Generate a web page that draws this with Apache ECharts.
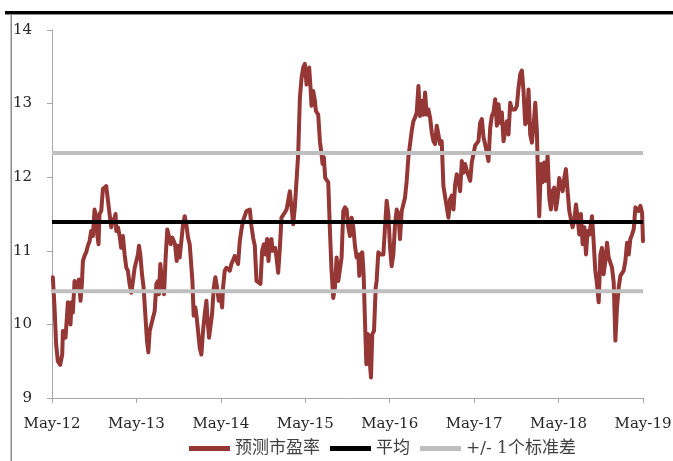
<!DOCTYPE html>
<html>
<head>
<meta charset="utf-8">
<script src="https://cdn.jsdelivr.net/npm/echarts@6/dist/echarts.min.js"></script>
<style>
  html, body { margin: 0; padding: 0; background: #fff; }
  #chart { width: 673px; height: 461px; }
</style>
</head>
<body>
<div id="chart"></div>
<script>
// Forward P/E, weekly readings, x = years since May 2012
const years = [
  0.010,0.030,0.049,0.069,0.097,0.121,0.129,0.148,0.160,0.176,
  0.188,0.208,0.219,0.231,0.247,0.267,0.287,0.306,0.318,0.338,
  0.354,0.366,0.385,0.405,0.425,0.445,0.464,0.484,0.504,0.524,
  0.536,0.551,0.563,0.583,0.603,0.623,0.642,0.662,0.682,0.702,
  0.722,0.741,0.753,0.761,0.781,0.801,0.820,0.840,0.860,0.880,
  0.899,0.919,0.939,0.959,0.979,0.998,1.018,1.030,1.046,1.066,
  1.085,1.105,1.125,1.141,1.157,1.176,1.196,1.216,1.236,1.255,
  1.267,1.283,1.307,1.327,1.346,1.366,1.386,1.406,1.425,1.441,
  1.457,1.477,1.493,1.512,1.532,1.552,1.572,1.591,1.611,1.631,
  1.651,1.663,1.678,1.698,1.714,1.730,1.750,1.769,1.789,1.809,
  1.829,1.841,1.860,1.880,1.896,1.916,1.935,1.955,1.975,1.995,
  2.015,2.026,2.046,2.066,2.086,2.106,2.125,2.145,2.165,2.185,
  2.204,2.224,2.244,2.264,2.283,2.303,2.323,2.343,2.362,2.382,
  2.402,2.422,2.442,2.469,2.489,2.509,2.528,2.548,2.564,2.580,
  2.600,2.611,2.627,2.643,2.659,2.679,2.699,2.718,2.738,2.758,
  2.778,2.797,2.817,2.837,2.857,2.876,2.896,2.916,2.936,2.956,
  2.975,2.995,3.015,3.035,3.046,3.062,3.074,3.094,3.114,3.126,
  3.153,3.173,3.193,3.205,3.220,3.236,3.252,3.272,3.292,3.311,
  3.331,3.351,3.371,3.391,3.410,3.430,3.450,
  3.470,3.490,3.509,3.529,3.549,3.569,3.588,3.608,3.628,3.640,
  3.656,3.675,3.691,3.707,3.723,3.739,3.754,3.766,3.778,3.794,
  3.814,3.834,3.845,3.865,3.885,3.905,3.925,3.944,3.964,3.984,
  4.004,4.023,4.043,4.063,4.083,4.102,4.122,4.142,4.162,4.181,
  4.201,4.221,4.241,4.261,4.280,4.300,4.320,4.340,4.359,4.379,
  4.399,4.419,4.438,4.458,4.478,4.498,4.518,4.537,4.557,4.577,
  4.597,4.616,4.636,4.656,4.676,4.696,4.715,4.735,4.755,4.775,
  4.794,4.814,4.834,4.854,4.873,4.893,4.913,4.933,4.953,4.972,
  4.992,5.012,5.032,5.051,5.071,5.091,5.111,5.130,5.150,5.170,
  5.190,5.209,5.229,5.249,5.269,5.289,5.308,5.328,5.348,5.368,
  5.387,5.407,5.427,5.447,5.466,5.486,5.506,5.526,5.546,5.565,
  5.585,5.605,5.625,5.644,5.664,5.684,5.704,5.724,5.743,5.755,
  5.771,5.791,5.811,5.830,5.850,5.870,5.890,5.909,5.929,5.949,
  5.969,5.989,6.008,6.028,6.048,6.068,6.087,6.107,6.127,6.147,
  6.166,6.186,6.206,6.226,6.245,6.265,6.285,6.305,6.325,6.344,
  6.364,6.384,6.396,6.415,6.435,6.455,6.475,6.495,6.514,6.534,
  6.554,6.574,6.593,6.613,6.633,6.653,6.673,6.692,6.712,6.732,
  6.752,6.771,6.791,6.811,6.831,6.850,6.870,6.890,6.910,6.929,
  6.949,6.969,6.989,7.000
];

const pe = [
  10.64,10.23,9.73,9.50,9.45,9.59,9.91,9.93,9.82,10.09,
  10.30,10.27,10.00,10.30,10.16,10.59,10.59,10.50,10.61,10.32,
  10.55,10.86,10.93,10.98,11.07,11.13,11.27,11.20,11.56,11.45,
  11.22,11.09,11.50,11.54,11.84,11.86,11.88,11.86,11.50,11.32,
  11.41,11.45,11.50,11.27,11.32,11.20,11.04,11.20,10.95,10.77,
  10.73,10.55,10.43,10.59,10.77,10.77,10.95,11.07,10.95,10.68,
  10.50,10.14,9.78,9.62,9.91,9.91,10.09,10.18,10.55,10.59,
  10.41,10.82,10.55,10.41,10.91,11.29,11.29,11.09,11.18,11.16,
  11.09,10.86,11.07,10.91,11.13,11.36,11.47,11.36,11.18,11.09,
  11.09,10.59,10.12,10.23,10.09,9.91,9.68,9.59,9.91,10.14,
  10.32,10.09,9.82,9.80,10.14,10.50,10.64,10.50,10.32,10.41,
  10.23,10.50,10.73,10.77,10.77,10.73,10.82,10.82,10.93,10.95,
  10.82,11.13,11.29,11.41,11.41,11.54,11.56,11.56,11.34,11.18,
  11.07,10.59,10.57,10.55,11.00,11.09,10.95,11.16,10.86,11.13,
  11.16,11.00,11.00,11.04,10.91,10.70,11.04,11.45,11.45,11.52,
  11.56,11.68,11.81,11.59,11.36,11.59,11.95,12.31,13.08,13.35,
  13.49,13.54,13.26,13.42,13.49,13.22,12.97,13.17,13.04,12.90,
  12.85,12.49,12.31,12.18,12.27,11.99,11.97,11.93,11.27,10.73,
  10.36,10.50,10.91,10.59,10.59,10.91,11.54,
  11.59,11.56,11.32,11.20,11.45,11.32,11.07,10.91,10.95,10.66,
  10.95,10.98,10.68,10.05,9.46,9.87,9.84,9.46,9.28,9.87,
  9.91,10.50,10.59,10.98,10.95,10.95,10.95,11.32,11.68,11.50,
  11.04,10.79,10.95,11.36,11.56,11.50,11.16,11.54,11.56,11.72,
  11.95,12.27,12.29,12.63,12.76,12.81,12.88,13.24,12.83,13.04,
  12.85,13.15,12.85,12.92,12.81,12.61,12.49,12.45,12.70,12.58,
  12.45,12.49,11.88,11.86,11.59,11.45,11.70,11.75,11.56,11.90,
  12.04,11.97,11.81,12.22,12.06,12.18,12.09,12.09,11.95,12.20,
  12.18,12.43,12.43,12.49,12.74,12.79,12.54,12.45,12.45,12.22,
  12.67,12.83,12.88,13.06,12.70,12.99,12.74,12.88,12.49,12.63,
  12.76,12.58,13.01,12.92,12.92,12.92,12.97,13.22,13.40,13.45,
  13.17,12.72,12.76,13.19,12.58,12.47,12.70,13.01,12.63,12.04,
  11.47,12.18,11.93,12.20,11.95,12.29,11.72,11.56,11.81,11.86,
  11.56,11.72,11.99,11.97,11.81,11.99,12.11,11.81,11.54,11.52,
  11.32,11.41,11.63,11.45,11.22,11.50,11.09,11.32,10.95,11.27,
  11.22,11.20,11.47,11.13,10.73,10.55,10.30,10.95,11.04,10.68,
  10.86,11.11,10.91,10.91,10.77,10.57,9.78,10.23,10.50,10.66,
  10.68,10.73,10.86,11.11,10.95,11.16,11.22,11.29,11.59,11.59,
  11.54,11.61,11.52,11.13
];

// Long-run average and one standard deviation band
const avgPE = 11.39;
const upperPE = 12.33;
const lowerPE = 10.45;

// X tick labels: one per year, starting May 2012
const tickLabels = ['May-12','May-13','May-14','May-15','May-16','May-17','May-18','May-19'];

const seriesNames = ['预测市盈率', '平均', '+/- 1个标准差'];

const xStart = 0, xEnd = tickLabels.length - 1;
const peData = years.map((t, i) => [t, pe[i]]);
const flat = v => [[xStart, v], [xEnd, v]];

const serifFont = "'DejaVu Serif', 'Noto Sans CJK SC', serif";

const chart = echarts.init(document.getElementById('chart'), null, { renderer: 'canvas' });
chart.setOption({
  animation: false,
  backgroundColor: '#ffffff',
  grid: { left: 52, right: 30, top: 30, bottom: 63, containLabel: false, outerBoundsMode: 'none' },
  graphic: [
    { type: 'rect', shape: { x: 5, y: 11, width: 668, height: 3 }, style: { fill: '#000000' }, silent: true },
    { type: 'rect', shape: { x: 5, y: 14, width: 668, height: 1 }, style: { fill: '#8c8c8c' }, silent: true },
    { type: 'rect', shape: { x: 10.5, y: 14, width: 1.5, height: 447 }, style: { fill: '#8c8c8c' }, silent: true }
  ],
  legend: {
    left: 184,
    top: 435,
    icon: 'rect',
    itemWidth: 41,
    itemHeight: 5,
    itemGap: 10,
    data: seriesNames,
    textStyle: { fontFamily: serifFont, fontSize: 17, color: '#404040' }
  },
  xAxis: {
    type: 'value',
    min: xStart,
    max: xEnd,
    interval: 1,
    splitLine: { show: false },
    axisLine: { show: true, lineStyle: { color: '#a6a6a6', width: 1 } },
    axisTick: { show: true, length: 5, lineStyle: { color: '#a6a6a6' } },
    axisLabel: {
      margin: 19,
      fontFamily: serifFont,
      fontSize: 15,
      color: '#262626',
      formatter: v => tickLabels[Math.round(v)]
    }
  },
  yAxis: {
    type: 'value',
    min: 9,
    max: 14,
    interval: 1,
    splitLine: { show: false },
    axisLine: { show: true, lineStyle: { color: '#a6a6a6', width: 1 } },
    axisTick: { show: true, length: 5, lineStyle: { color: '#a6a6a6' } },
    axisLabel: { margin: 20, fontFamily: serifFont, fontSize: 15, color: '#262626' }
  },
  series: [
    {
      name: seriesNames[0],
      type: 'line',
      data: peData,
      symbol: 'none',
      color: '#953735',
      lineStyle: { color: '#953735', width: 4, join: 'round', cap: 'round' },
      z: 2
    },
    {
      name: seriesNames[1],
      type: 'line',
      data: flat(avgPE),
      symbol: 'none',
      color: '#000000',
      lineStyle: { color: '#000000', width: 4 },
      z: 3
    },
    {
      name: seriesNames[2],
      type: 'line',
      data: flat(upperPE),
      symbol: 'none',
      color: '#bfbfbf',
      lineStyle: { color: '#bfbfbf', width: 4 },
      z: 3
    },
    {
      name: seriesNames[2],
      type: 'line',
      data: flat(lowerPE),
      symbol: 'none',
      color: '#bfbfbf',
      lineStyle: { color: '#bfbfbf', width: 4 },
      z: 3
    }
  ]
});
</script>
</body>
</html>
